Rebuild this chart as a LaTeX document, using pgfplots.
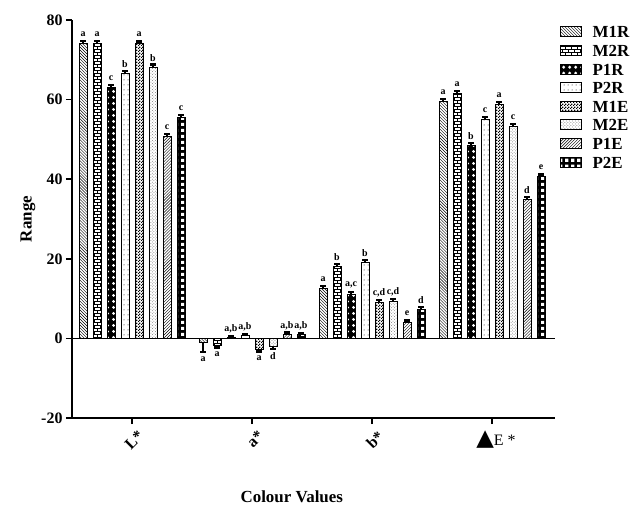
\documentclass[border=0pt]{standalone}
\usepackage{fontspec}
\setmainfont{Liberation Serif}
\newfontfamily\dejavu{DejaVu Sans}
\usepackage{pgfplots}
\pgfplotsset{compat=1.18}
\usepackage{pgfplotstable}
\usetikzlibrary{patterns}

% patterns
\pgfdeclarepatternformonly{bigdots}{\pgfpoint{-3bp}{-3bp}}{\pgfpoint{3bp}{3bp}}{\pgfpoint{6bp}{6bp}}{%
  \pgfpathcircle{\pgfpoint{0bp}{0bp}}{1.8bp}\pgfusepath{fill}}
\pgfdeclarepatternformonly{sparsedots}{\pgfpoint{-1bp}{-1bp}}{\pgfpoint{1bp}{1bp}}{\pgfpoint{4bp}{5bp}}{%
  \pgfpathcircle{\pgfpoint{0bp}{0bp}}{0.5bp}\pgfusepath{fill}}
\pgfdeclarepatternformonly{finechecker}{\pgfpointorigin}{\pgfpoint{3bp}{3bp}}{\pgfpoint{3bp}{3bp}}{%
  \pgfpathrectangle{\pgfpointorigin}{\pgfpoint{1.5bp}{1.5bp}}%
  \pgfpathrectangle{\pgfpoint{1.5bp}{1.5bp}}{\pgfpoint{1.5bp}{1.5bp}}\pgfusepath{fill}}
\pgfdeclarepatternformonly{whitesquares}{\pgfpointorigin}{\pgfpoint{6bp}{6bp}}{\pgfpoint{6bp}{6bp}}{%
  \pgfpathrectangle{\pgfpoint{1.2bp}{1.2bp}}{\pgfpoint{3.6bp}{3.6bp}}\pgfusepath{fill}}
\pgfdeclarepatternformonly{finebricks}{\pgfpoint{-0.5bp}{-0.5bp}}{\pgfpoint{6.5bp}{6.5bp}}{\pgfpoint{6bp}{6bp}}{%
  \pgfsetlinewidth{0.6bp}%
  \pgfpathmoveto{\pgfpoint{0bp}{0bp}}\pgfpathlineto{\pgfpoint{6bp}{0bp}}%
  \pgfpathmoveto{\pgfpoint{0bp}{3bp}}\pgfpathlineto{\pgfpoint{6bp}{3bp}}%
  \pgfpathmoveto{\pgfpoint{1bp}{0bp}}\pgfpathlineto{\pgfpoint{1bp}{3bp}}%
  \pgfpathmoveto{\pgfpoint{4bp}{3bp}}\pgfpathlineto{\pgfpoint{4bp}{6bp}}%
  \pgfusepath{stroke}}

% x: 0 L*, 1 a*, 2 b*, 3 dE*;  e = error (sign follows bar)
\pgfplotstableread{
x y e lab
0 74.1 0.6 a
1 -1.0 -2.5 a
2 12.6 0.6 a
3 59.6 0.6 a
}\MoneR
\pgfplotstableread{
x y e lab
0 74.1 0.6 a
1 -1.8 -0.5 a
2 18.0 0.6 b
3 61.6 0.6 a
}\MtwoR
\pgfplotstableread{
x y e lab
0 63.0 0.6 c
1 0.3 0.3 a,b
2 11.0 0.6 a,c
3 48.5 0.6 b
}\PoneR
\pgfplotstableread{
x y e lab
0 66.6 0.6 b
1 0.7 0.4 a,b
2 19.0 0.6 b
3 55.0 0.6 c
}\PtwoR
\pgfplotstableread{
x y e lab
0 74.0 0.6 a
1 -2.8 -0.5 a
2 9.0 0.6 c,d
3 58.7 0.6 a
}\MoneE
\pgfplotstableread{
x y e lab
0 68.2 0.6 b
1 -2.1 -0.5 d
2 9.3 0.6 c,d
3 53.2 0.6 c
}\MtwoE
\pgfplotstableread{
x y e lab
0 50.8 0.6 c
1 1.1 0.4 a,b
2 3.9 0.6 e
3 35.0 0.6 d
}\PoneE
\pgfplotstableread{
x y e lab
0 55.6 0.6 c
1 0.9 0.4 a,b
2 7.3 0.6 d
3 40.6 0.6 e
}\PtwoE

\pgfplotsset{
  common/.style={draw=black, line width=0.9bp,
    visualization depends on={\thisrow{e} \as \err},
    error bars/y dir=plus, error bars/y explicit,
    error bars/error bar style={line width=1.4bp, black},
    error bars/error mark options={rotate=90, mark size=2.6bp, line width=2.2bp, black}},
}

\begin{document}
\begin{tikzpicture}
\useasboundingbox (0,0) rectangle (635bp,505bp);
\begin{axis}[
  at={(72bp,87bp)}, anchor=south west,
  scale only axis, width=483bp, height=398bp,
  ybar=6bp, bar width=8bp,
  xmin=-0.5, xmax=3.525, ymin=-20, ymax=80,
  axis lines*=left,
  axis line style={line width=1.5bp, black},
  clip=false,
  xtick={0,1,2},
  xticklabels={L*, a*, b*},
  xticklabel style={rotate=45, anchor=north east, xshift=3bp, yshift=-4bp},
  extra x ticks={3},
  extra x tick labels={{{\dejavu\fontsize{23}{23}\selectfont ▲}\mdseries E *}},
  extra x tick style={xticklabel style={rotate=-45, anchor=north, xshift=-1bp, yshift=-3bp}},
  ytick={-20,0,20,40,60,80},
  yticklabels={-20,0,20,40,60,80},
  ticklabel style={font=\fontsize{16}{18}\selectfont\bfseries},
  tick style={line width=1.5bp, black},
  major tick length=6bp, tick align=outside,
  extra y ticks={0}, extra y tick labels={},
  extra y tick style={grid=major, major grid style={black, line width=1.5bp}, major tick length=0pt},
  xlabel={Colour Values}, ylabel={Range},
  label style={font=\fontsize{17}{19}\selectfont\bfseries},
  xlabel style={at={(axis description cs:0.455,-0.198)}, anchor=center, rotate=0},
  ylabel style={at={(axis description cs:-0.091,0.5)}, anchor=center},
  nodes near coords, point meta=explicit symbolic,
  nodes near coords style={anchor=center, inner sep=0pt,
    font=\fontsize{10}{11}\selectfont\bfseries,
    yshift={\err*3.98+7*sign(\err)}},
  legend image code/.code={\draw[#1, line width=0.8bp] (0bp,-5bp) rectangle (21bp,5bp); \path (31bp,0bp);},
  legend style={at={(rel axis cs:1,0.987)}, xshift=5bp, anchor=north west,
    draw=none, fill=none, inner sep=0pt, row sep=5.6bp,
    font=\fontsize{17}{17}\selectfont\bfseries,
    nodes={inner sep=0.5bp, text height=12bp, text depth=0bp},
    cells={anchor=west}},
]
\addplot[common, pattern=north west lines] table[x=x, y=y, y error=e, meta=lab] {\MoneR};
\addlegendentry{M1R}
\addplot[common, pattern=finebricks] table[x=x, y=y, y error=e, meta=lab] {\MtwoR};
\addlegendentry{M2R}
\addplot[common, fill=black, postaction={pattern=bigdots, pattern color=white}] table[x=x, y=y, y error=e, meta=lab] {\PoneR};
\addlegendentry{P1R}
\addplot[common, pattern=sparsedots] table[x=x, y=y, y error=e, meta=lab] {\PtwoR};
\addlegendentry{P2R}
\addplot[common, pattern=finechecker] table[x=x, y=y, y error=e, meta=lab] {\MoneE};
\addlegendentry{M1E}
\addplot[common, pattern=crosshatch dots, pattern color=gray] table[x=x, y=y, y error=e, meta=lab] {\MtwoE};
\addlegendentry{M2E}
\addplot[common, pattern=north east lines] table[x=x, y=y, y error=e, meta=lab] {\PoneE};
\addlegendentry{P1E}
\addplot[common, fill=black, postaction={pattern=whitesquares, pattern color=white}] table[x=x, y=y, y error=e, meta=lab] {\PtwoE};
\addlegendentry{P2E}
\end{axis}
\end{tikzpicture}
\end{document}
